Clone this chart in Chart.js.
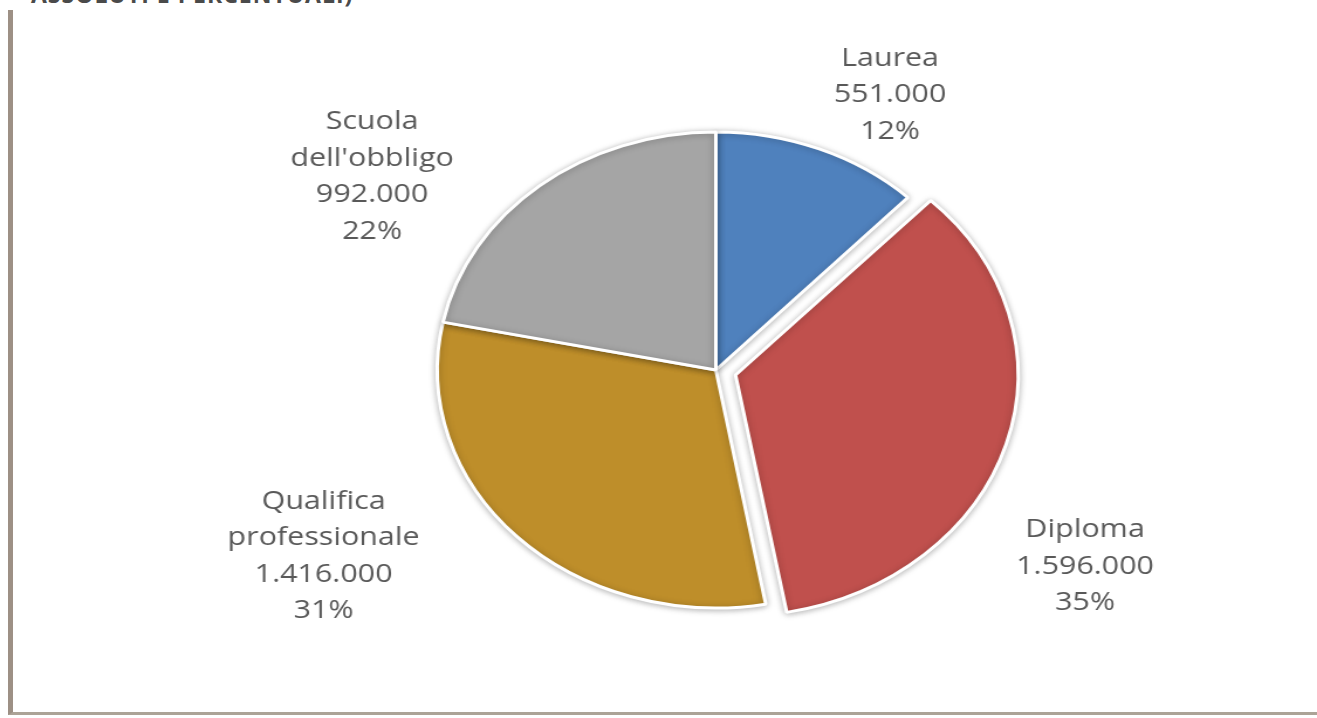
<!DOCTYPE html>
<html>
<head>
<meta charset="utf-8">
<script src="https://cdn.jsdelivr.net/npm/chart.js@4.4.1/dist/chart.umd.min.js"></script>
<style>
  html, body { margin: 0; padding: 0; background: #ffffff; overflow: hidden; }
  body { width: 1317px; height: 718px; position: relative; }
  #title {
    position: absolute; left: 31px; top: -17px; margin: 0;
    font-family: "Open Sans", sans-serif; font-weight: 700; font-size: 23px;
    line-height: 23px; color: #4a4a4a; white-space: nowrap; letter-spacing: 1px;
  }
  #frame {
    position: absolute; left: 8px; top: 10px; width: 1320px; height: 702px;
    border-left: 5px solid #9d9085; border-bottom: 3px solid #aca397;
  }
  #wrap {
    position: absolute; left: 0; top: 0; width: 1125px; height: 718px;
    transform: scaleX(1.1707); transform-origin: 0 0;
  }
</style>
</head>
<body>
<div id="title">ASSOLUTI E PERCENTUALI)</div>
<div id="frame"></div>
<div id="wrap"><canvas id="c"></canvas></div>
<script>
// ---- data ----
const categories = ["Laurea", "Diploma", "Qualifica professionale", "Scuola dell'obbligo"];
const values = [551000, 1596000, 1416000, 992000];
const colors = ["#4F81BD", "#C0504D", "#BE8E2A", "#A5A5A5"];
const explode = [0, 70, 0, 0];

// label placement relative to pie centre, in units of the radius (layout only)
const labelLayout = [[0.625, -1.164], [1.325, 0.817], [-1.408, 0.775], [-1.234, -0.821]];

function fmtIt(n) {
  return String(n).replace(/\B(?=(\d{3})+(?!\d))/g, ".");
}
const total = values.reduce((a, b) => a + b, 0);

const shadowPlugin = {
  id: 'shadow',
  beforeDatasetsDraw(chart) {
    const ctx = chart.ctx;
    ctx.save();
    ctx.shadowColor = 'rgba(0,0,0,0.28)';
    ctx.shadowBlur = 6;
    ctx.shadowOffsetX = 0;
    ctx.shadowOffsetY = 1;
  },
  afterDatasetsDraw(chart) {
    chart.ctx.restore();
  }
};

const labelPlugin = {
  id: 'outLabels',
  afterDraw(chart) {
    const ctx = chart.ctx;
    const meta = chart.getDatasetMeta(0);
    const fs = 26, lh = 36.5;
    ctx.save();
    ctx.font = fs + 'px "Open Sans", sans-serif';
    ctx.fillStyle = '#595959';
    ctx.textAlign = 'center';
    ctx.textBaseline = 'alphabetic';
    meta.data.forEach((arc, i) => {
      const r = arc.outerRadius;
      const cx = arc.x + labelLayout[i][0] * r;
      const cy = arc.y + labelLayout[i][1] * r;
      const lines = categories[i].split(' ');
      lines.push(fmtIt(values[i]));
      lines.push(Math.round(values[i] / total * 100) + '%');
      const n = lines.length;
      lines.forEach((t, k) => {
        const capMid = cy + (k - (n - 1) / 2) * lh;
        ctx.fillText(t, cx, capMid + 0.357 * fs);
      });
    });
    ctx.restore();
  }
};

new Chart(document.getElementById('c'), {
  type: 'pie',
  data: {
    labels: categories,
    datasets: [{
      data: values,
      backgroundColor: colors,
      borderColor: '#ffffff',
      borderWidth: 3,
      offset: explode
    }]
  },
  options: {
    responsive: true,
    maintainAspectRatio: false,
    animation: false,
    events: [],
    radius: 238,
    layout: { padding: { left: 98, right: 0, top: 22, bottom: 0 } },
    plugins: {
      legend: { display: false },
      tooltip: { enabled: false },
      title: { display: false }
    }
  },
  plugins: [shadowPlugin, labelPlugin]
});
</script>
</body>
</html>
